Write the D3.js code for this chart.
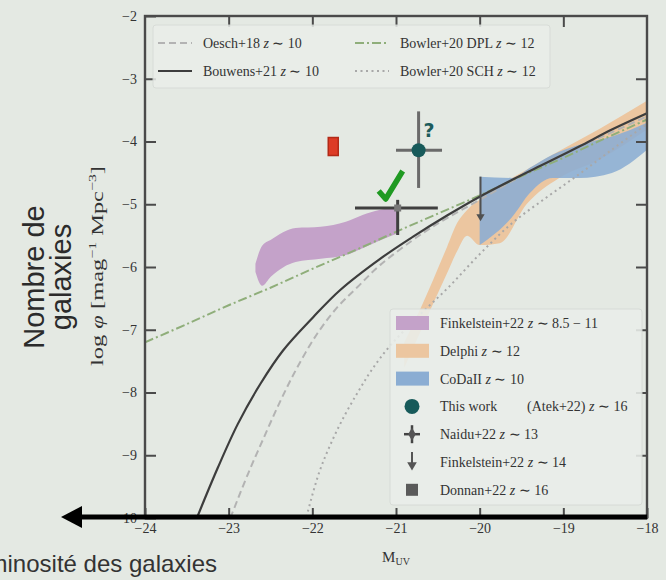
<!DOCTYPE html>
<html>
<head>
<meta charset="utf-8">
<script src="https://cdn.jsdelivr.net/npm/d3@7"></script>
<style>
  body { margin: 0; background: #e4e9e3; }
  svg { display: block; }
  .tick text { font-family: "Liberation Serif", serif; font-size: 14px; fill: #333; }
  .tick line { stroke: #4a4a4a; stroke-width: 2; }
  .domain { display: none; }
</style>
</head>
<body>
<div id="chart"></div>
<script>
let size = {width: 666, height: 580};
let plot = {left: 145, right: 647, top: 16, bottom: 518};

// axis ticks
const xTicks = [-24, -23, -22, -21, -20, -19, -18];
const yTicks = [-2, -3, -4, -5, -6, -7, -8, -9, -10];

// model curves  (M_UV, log phi)
const oeschM   = [-22.98, -22.77, -22.58, -22.38, -22.18, -21.94, -21.70, -21.46, -21.19, -20.68, -20.39, -20.0, -19.5, -19.0, -18.5, -18.0];
const oeschPhi = [-10.0, -9.3, -8.72, -8.13, -7.6, -7.06, -6.64, -6.32, -5.97, -5.46, -5.22, -4.93, -4.55, -4.2, -3.9, -3.6];

const bouwM   = [-23.38, -23.13, -22.89, -22.62, -22.35, -21.99, -21.67, -21.19, -20.8, -20.39, -20.0, -19.61, -19.2, -18.81, -18.42, -18.0];
const bouwPhi = [-10.0, -9.2, -8.5, -7.86, -7.33, -6.8, -6.37, -5.87, -5.52, -5.18, -4.88, -4.61, -4.34, -4.08, -3.81, -3.55];

const dplM   = [-24.0, -23.5, -23.0, -22.5, -22.0, -21.5, -21.0, -20.5, -20.0, -19.5, -19.0, -18.5, -18.0];
const dplPhi = [-7.2, -6.91, -6.61, -6.33, -6.03, -5.74, -5.44, -5.15, -4.86, -4.55, -4.26, -3.95, -3.65];

const schM   = [-22.07, -21.92, -21.76, -21.6, -21.44, -21.29, -21.08, -20.73, -20.37, -20.01, -19.62, -19.21, -18.82, -18.43, -18.0];
const schPhi = [-9.98, -9.28, -8.76, -8.33, -7.96, -7.64, -7.27, -6.78, -6.32, -5.81, -5.31, -4.9, -4.53, -4.14, -3.72];

// shaded regions
const finkM  = [-22.68, -22.6, -22.5, -22.2, -21.9, -21.6, -21.4, -21.2, -20.97];
const finkHi = [-5.95, -5.66, -5.57, -5.38, -5.36, -5.28, -5.17, -5.09, -5.06];
const finkLo = [-6.08, -6.3, -6.16, -5.92, -5.87, -5.81, -5.7, -5.58, -5.46];

const delM  = [-20.9, -20.68, -20.39, -20.27, -20.15, -20.0, -19.76, -19.44, -19.05, -18.57, -18.0];
const delHi = [-7.2, -6.58, -5.68, -5.3, -5.09, -4.93, -4.7, -4.45, -4.15, -3.8, -3.35];
const delLo = [-7.6, -6.95, -6.1, -5.75, -5.5, -5.65, -5.62, -5.0, -4.58, -4.29, -3.81];

const codM  = [-20.0, -19.61, -19.4, -19.13, -18.81, -18.42, -18.0];
const codHi = [-4.56, -4.58, -4.42, -4.21, -4.05, -3.92, -3.7];
const codLo = [-5.65, -5.2, -4.82, -4.58, -4.58, -4.5, -4.13];

// points
const atek = {M: -20.73, phi: -4.14, xlo: -21.0, xhi: -20.45, ylo: -4.74, yhi: -3.52};
const naidu = {M: -20.98, phi: -5.06, xlo: -21.49, xhi: -20.5, ylo: -5.49, yhi: -4.93};
const donnan = {M: -21.75, phi: -4.08};
const fink14 = {M: -19.99, phi: -4.56, lim: -5.18};

const topLegend = [
  {name: 'Oesch+18', z: '10', color: '#b3b3b3', dash: '7,4', width: 2},
  {name: 'Bouwens+21', z: '10', color: '#3d3d3d', dash: null, width: 2.2},
  {name: 'Bowler+20 DPL', z: '12', color: '#8fae7a', dash: '9,3,2,3', width: 2},
  {name: 'Bowler+20 SCH', z: '12', color: '#a8a8a8', dash: '2,3.5', width: 2}
];
const sideLegend = [
  {name: 'Finkelstein+22', z: '8.5 − 11', kind: 'patch', color: '#c4a2c9'},
  {name: 'Delphi', z: '12', kind: 'patch', color: '#ecc6a0'},
  {name: 'CoDaII', z: '10', kind: 'patch', color: '#8badd3'},
  {name: 'This work', z: '16', kind: 'circle', extra: '(Atek+22)'},
  {name: 'Naidu+22', z: '13', kind: 'cross'},
  {name: 'Finkelstein+22', z: '14', kind: 'arrow'},
  {name: 'Donnan+22', z: '16', kind: 'square'}
];

let svg = d3.select('#chart').append('svg')
  .attr('width', size.width)
  .attr('height', size.height);

let x = d3.scaleLinear().domain([-24, -18]).range([plot.left, plot.right]);
let y = d3.scaleLinear().domain([-2, -10]).range([plot.top, plot.bottom]);

svg.append('clipPath').attr('id', 'clip')
  .append('rect')
  .attr('x', plot.left).attr('y', plot.top)
  .attr('width', plot.right - plot.left).attr('height', plot.bottom - plot.top);

let g = svg.append('g').attr('clip-path', 'url(#clip)');

function zip(a, b) { return a.map((v, i) => [v, b[i]]); }
function zip3(a, lo, hi) { return a.map((v, i) => [v, lo[i], hi[i]]); }

let area = d3.area()
  .x(d => x(d[0])).y0(d => y(d[1])).y1(d => y(d[2]))
  .curve(d3.curveMonotoneX);

g.append('path').attr('d', area(zip3(finkM, finkLo, finkHi))).attr('fill', '#c4a2c9');
g.append('path').attr('d', area(zip3(delM, delLo, delHi))).attr('fill', '#ecc6a0');
g.append('path').attr('d', area(zip3(codM, codLo, codHi))).attr('fill', '#8badd3').attr('opacity', 0.88);

let line = d3.line().x(d => x(d[0])).y(d => y(d[1])).curve(d3.curveCatmullRom.alpha(0.5));

function drawCurve(ms, ps, st) {
  g.append('path')
    .attr('d', line(zip(ms, ps)))
    .attr('fill', 'none')
    .attr('stroke', st.color)
    .attr('stroke-width', st.width)
    .attr('stroke-dasharray', st.dash);
}
drawCurve(schM, schPhi, topLegend[3]);
drawCurve(oeschM, oeschPhi, topLegend[0]);
drawCurve(dplM, dplPhi, topLegend[2]);
drawCurve(bouwM, bouwPhi, topLegend[1]);

// axes, ticks inward on all sides
let fmt = d3.format('d');
svg.append('g').attr('transform', `translate(0,${plot.bottom})`)
  .call(d3.axisBottom(x).tickValues(xTicks).tickFormat(fmt).tickSizeInner(-10).tickSizeOuter(0).tickPadding(5));
svg.append('g').attr('transform', `translate(0,${plot.top})`)
  .call(d3.axisTop(x).tickValues(xTicks.slice(1, -1)).tickSizeInner(-11).tickSizeOuter(0).tickFormat(''));
svg.append('g').attr('transform', `translate(${plot.left},0)`)
  .call(d3.axisLeft(y).tickValues(yTicks).tickFormat(fmt).tickSizeInner(-11).tickSizeOuter(0).tickPadding(8));
svg.append('g').attr('transform', `translate(${plot.right},0)`)
  .call(d3.axisRight(y).tickValues(yTicks.slice(1, -1)).tickSizeInner(-11).tickSizeOuter(0).tickFormat(''));

svg.append('rect')
  .attr('x', plot.left).attr('y', plot.top)
  .attr('width', plot.right - plot.left).attr('height', plot.bottom - plot.top)
  .attr('fill', 'none').attr('stroke', '#4a4a4a').attr('stroke-width', 2.4);

// data points
let pts = svg.append('g');
function errBars(p, color, w) {
  pts.append('line').attr('x1', x(p.xlo)).attr('x2', x(p.xhi)).attr('y1', y(p.phi)).attr('y2', y(p.phi))
    .attr('stroke', color).attr('stroke-width', w);
  pts.append('line').attr('x1', x(p.M)).attr('x2', x(p.M)).attr('y1', y(p.ylo)).attr('y2', y(p.yhi))
    .attr('stroke', color).attr('stroke-width', w);
}
errBars(naidu, '#3f3f3f', 3);
pts.append('rect').attr('x', x(naidu.M) - 3.5).attr('y', y(naidu.phi) - 3.5)
  .attr('width', 7).attr('height', 7).attr('fill', '#777');

errBars(atek, '#6a6a6a', 3);
pts.append('circle').attr('cx', x(atek.M)).attr('cy', y(atek.phi)).attr('r', 7).attr('fill', '#175a5a');

pts.append('rect').attr('x', x(donnan.M) - 5).attr('y', y(donnan.phi) - 9)
  .attr('width', 10).attr('height', 18)
  .attr('fill', '#dd3b26').attr('stroke', '#b22a18').attr('stroke-width', 1.5);

pts.append('line').attr('x1', x(fink14.M)).attr('x2', x(fink14.M))
  .attr('y1', y(fink14.phi)).attr('y2', y(fink14.lim))
  .attr('stroke', '#505050').attr('stroke-width', 2);
pts.append('path')
  .attr('d', d3.symbol(d3.symbolTriangle, 30)())
  .attr('transform', `translate(${x(fink14.M)},${y(fink14.lim) + 1}) rotate(180)`)
  .attr('fill', '#505050');

// annotations
let ck = d3.path();
ck.moveTo(x(naidu.M) - 19, y(naidu.phi) - 17);
ck.lineTo(x(naidu.M) - 12, y(naidu.phi) - 9);
ck.lineTo(x(naidu.M) + 5, y(naidu.phi) - 37);
svg.append('path').attr('d', ck.toString()).attr('fill', 'none')
  .attr('stroke', '#1f9a22').attr('stroke-width', 5.5).attr('stroke-linejoin', 'round');

svg.append('text').attr('x', x(atek.M) + 5).attr('y', y(atek.phi) - 13)
  .attr('font-family', 'DejaVu Sans, sans-serif').attr('font-size', 19).attr('font-weight', 'bold')
  .attr('fill', '#1d5c5c').text('?');

// top legend
let lg = svg.append('g');
lg.append('rect').attr('x', 153).attr('y', 25).attr('width', 397).attr('height', 63).attr('rx', 3)
  .attr('fill', '#eaeeea').attr('opacity', 0.85).attr('stroke', '#d6dad6');
topLegend.forEach((d, i) => {
  let cx = 158 + Math.floor(i / 2) * 197;
  let cy = 43 + (i % 2) * 28;
  lg.append('line').attr('x1', cx).attr('x2', cx + 34).attr('y1', cy).attr('y2', cy)
    .attr('stroke', d.color).attr('stroke-width', d.width).attr('stroke-dasharray', d.dash);
  let t = lg.append('text').attr('x', cx + 45).attr('y', cy + 5)
    .attr('font-family', 'Liberation Serif, serif').attr('font-size', 14).attr('fill', '#333');
  t.append('tspan').text(d.name + ' ');
  t.append('tspan').attr('font-style', 'italic').text('z');
  t.append('tspan').text(' ∼ ' + d.z);
});

// lower right legend
let sl = svg.append('g');
sl.append('rect').attr('x', 390).attr('y', 309).attr('width', 252).attr('height', 196).attr('rx', 3)
  .attr('fill', '#eaeeea').attr('opacity', 0.88).attr('stroke', '#d6dad6');
sideLegend.forEach((d, i) => {
  let cy = 323 + i * 27.8;
  let mx = 412;
  if (d.kind === 'patch') {
    sl.append('rect').attr('x', 396).attr('y', cy - 7).attr('width', 33).attr('height', 14).attr('fill', d.color);
  } else if (d.kind === 'circle') {
    sl.append('circle').attr('cx', mx).attr('cy', cy).attr('r', 7.5).attr('fill', '#175a5a');
  } else if (d.kind === 'cross') {
    sl.append('line').attr('x1', mx - 8).attr('x2', mx + 8).attr('y1', cy).attr('y2', cy).attr('stroke', '#444').attr('stroke-width', 2.5);
    sl.append('line').attr('x1', mx).attr('x2', mx).attr('y1', cy - 9).attr('y2', cy + 9).attr('stroke', '#444').attr('stroke-width', 2.5);
    sl.append('path').attr('d', d3.symbol(d3.symbolDiamond, 50)()).attr('transform', `translate(${mx},${cy})`).attr('fill', '#555');
  } else if (d.kind === 'arrow') {
    sl.append('line').attr('x1', mx).attr('x2', mx).attr('y1', cy - 10).attr('y2', cy + 2).attr('stroke', '#555').attr('stroke-width', 2);
    sl.append('path').attr('d', d3.symbol(d3.symbolTriangle, 40)()).attr('transform', `translate(${mx},${cy + 3}) rotate(180)`).attr('fill', '#555');
  } else {
    sl.append('rect').attr('x', mx - 6).attr('y', cy - 6).attr('width', 12).attr('height', 12).attr('fill', '#5a5a5a');
  }
  let t = sl.append('text').attr('x', 440).attr('y', cy + 5)
    .attr('font-family', 'Liberation Serif, serif').attr('font-size', 14).attr('fill', '#333');
  if (d.extra) {
    t.append('tspan').text(d.name);
    t.append('tspan').attr('x', 527).text(d.extra + ' ');
  } else {
    t.append('tspan').text(d.name + ' ');
  }
  t.append('tspan').attr('font-style', 'italic').text('z');
  t.append('tspan').text(' ∼ ' + d.z);
});

// axis labels
let xl = svg.append('text').attr('x', 396).attr('y', 562).attr('text-anchor', 'middle')
  .attr('font-family', 'Liberation Serif, serif').attr('font-size', 15).attr('fill', '#333');
xl.append('tspan').text('M');
xl.append('tspan').attr('font-size', 10).attr('dy', 3).text('UV');

let yl = svg.append('text').attr('transform', 'translate(103,266) rotate(-90)').attr('text-anchor', 'middle')
  .attr('font-family', 'Liberation Serif, serif').attr('font-size', 17).attr('fill', '#333')
  .attr('textLength', 200).attr('lengthAdjust', 'spacingAndGlyphs');
yl.append('tspan').text('log ');
yl.append('tspan').attr('font-style', 'italic').text('φ');
yl.append('tspan').text(' [mag');
yl.append('tspan').attr('font-size', 11).attr('dy', -7).text('−1');
yl.append('tspan').attr('dy', 7).text(' Mpc');
yl.append('tspan').attr('font-size', 11).attr('dy', -7).text('−3');
yl.append('tspan').attr('dy', 7).text(']');

// slide annotations
svg.append('text').attr('transform', 'translate(44,277) rotate(-90)').attr('text-anchor', 'middle')
  .attr('font-family', 'Liberation Sans, sans-serif').attr('font-size', 29).attr('fill', '#2b2b2b').text('Nombre de');
svg.append('text').attr('transform', 'translate(71,277) rotate(-90)').attr('text-anchor', 'middle')
  .attr('font-family', 'Liberation Sans, sans-serif').attr('font-size', 29).attr('fill', '#2b2b2b').text('galaxies');

svg.append('line').attr('x1', 76).attr('x2', x(-18)).attr('y1', plot.bottom - 1).attr('y2', plot.bottom - 1)
  .attr('stroke', '#000').attr('stroke-width', 5);
svg.append('path').attr('d', `M61,${plot.bottom - 1}L82,${plot.bottom - 12}L82,${plot.bottom + 10}Z`).attr('fill', '#000');

svg.append('text').attr('x', 217).attr('y', 572).attr('text-anchor', 'end')
  .attr('font-family', 'Liberation Sans, sans-serif').attr('font-size', 24).attr('fill', '#333')
  .text('Luminosité des galaxies');
</script>
</body>
</html>
